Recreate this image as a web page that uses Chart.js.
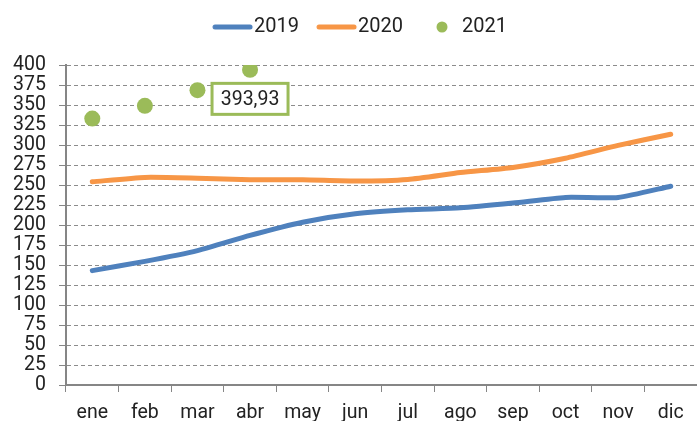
<!DOCTYPE html>
<html>
<head>
<meta charset="utf-8">
<script src="https://cdn.jsdelivr.net/npm/chart.js@4/dist/chart.umd.min.js"></script>
<style>
  html, body { margin: 0; padding: 0; background: #fff; overflow: hidden; }
  #wrap { width: 697px; height: 421px; }
</style>
</head>
<body>
<div id="wrap"><canvas id="grafico"></canvas></div>
<script>
var meses = ['ene', 'feb', 'mar', 'abr', 'may', 'jun', 'jul', 'ago', 'sep', 'oct', 'nov', 'dic'];
var serie2019 = [143, 154.5, 168, 187, 203.5, 214, 219, 221.5, 227.5, 234.5, 234.5, 248.5];
var serie2020 = [254, 259.5, 258.5, 256.5, 256.5, 255, 257, 265.5, 272, 283.5, 299.5, 313.5];
var serie2021 = [333, 349, 368.5, 393.93, null, null, null, null, null, null, null, null];
var etiqueta2021 = '393,93';
var indiceEtiqueta = 3;

var azul = '#4F81BD';
var naranja = '#F79646';
var verde = '#9BBB59';

// muestras de leyenda dibujadas en un canvas pequeño
function muestraLinea(color) {
    var c = document.createElement('canvas');
    c.width = 60; c.height = 8;
    var g = c.getContext('2d');
    g.strokeStyle = color;
    g.lineWidth = 5;
    g.lineCap = 'round';
    g.beginPath();
    g.moveTo(21, 4);
    g.lineTo(56, 4);
    g.stroke();
    return c;
}
function muestraPunto(color) {
    var c = document.createElement('canvas');
    c.width = 60; c.height = 14;
    var g = c.getContext('2d');
    g.fillStyle = color;
    g.beginPath();
    g.arc(40, 7, 5.5, 0, Math.PI * 2);
    g.fill();
    return c;
}

var etiquetaPlugin = {
    id: 'etiquetaDato',
    afterDatasetsDraw: function (chart) {
        var meta = chart.getDatasetMeta(2);
        var p = meta.data[indiceEtiqueta];
        if (!p) return;
        var ctx = chart.ctx;
        var w = 76, h = 31;
        var cx = p.x, cy = p.y + 29;
        ctx.save();
        ctx.fillStyle = '#fff';
        ctx.fillRect(cx - w / 2, cy - h / 2, w, h);
        ctx.strokeStyle = verde;
        ctx.lineWidth = 3;
        ctx.strokeRect(cx - w / 2, cy - h / 2, w, h);
        ctx.fillStyle = '#222';
        ctx.font = '19.5px Roboto';
        ctx.textAlign = 'center';
        ctx.textBaseline = 'middle';
        ctx.fillText(etiqueta2021, cx, cy + 1);
        ctx.restore();
    }
};

// espacio extra bajo la leyenda y leve corrimiento a la derecha
var leyendaPlugin = {
    id: 'espacioLeyenda',
    beforeUpdate: function (chart) {
        var lg = chart.legend;
        if (lg && !lg._parcheado) {
            var fitOrig = lg.fit;
            lg.fit = function () {
                fitOrig.apply(this, arguments);
                this.height += 18;
            };
            var drawOrig = lg.draw;
            lg.draw = function () {
                var ctx = this.ctx;
                ctx.save();
                ctx.translate(7, 0);
                drawOrig.apply(this, arguments);
                ctx.restore();
            };
            lg._parcheado = true;
        }
    }
};

var canvas = document.getElementById('grafico').getContext('2d');

window.grafico = new Chart(canvas, {
    type: 'line',
    data: {
        labels: meses,
        datasets: [{
            label: '2019',
            data: serie2019,
            borderColor: azul,
            backgroundColor: azul,
            borderWidth: 5,
            pointRadius: 0,
            borderCapStyle: 'round',
            tension: 0.2
        }, {
            label: '2020',
            data: serie2020,
            borderColor: naranja,
            backgroundColor: naranja,
            borderWidth: 5,
            pointRadius: 0,
            borderCapStyle: 'round',
            tension: 0.2
        }, {
            label: '2021',
            data: serie2021,
            showLine: false,
            borderColor: verde,
            backgroundColor: verde,
            pointRadius: 8,
            pointBorderWidth: 0,
            pointStyle: 'circle'
        }]
    },
    options: {
        responsive: true,
        maintainAspectRatio: false,
        animation: false,
        layout: {
            autoPadding: false,
            padding: { left: 0, right: 0, top: 8, bottom: 0 }
        },
        plugins: {
            tooltip: { enabled: false },
            legend: {
                display: true,
                position: 'top',
                labels: {
                    usePointStyle: true,
                    pointStyleWidth: 40,
                    padding: 9,
                    color: '#222',
                    font: { family: 'Roboto', size: 20 },
                    generateLabels: function (chart) {
                        var imgs = [muestraLinea(azul), muestraLinea(naranja), muestraPunto(verde)];
                        return chart.data.datasets.map(function (ds, i) {
                            return {
                                text: ds.label,
                                pointStyle: imgs[i],
                                fillStyle: ds.borderColor,
                                strokeStyle: ds.borderColor,
                                lineWidth: 0,
                                hidden: false,
                                datasetIndex: i,
                                fontColor: '#222'
                            };
                        });
                    }
                }
            }
        },
        scales: {
            x: {
                offset: true,
                grid: {
                    offset: true,
                    drawOnChartArea: false,
                    drawTicks: true,
                    tickLength: 7,
                    color: '#868686',
                    lineWidth: 1
                },
                border: { color: '#868686', width: 2 },
                ticks: {
                    color: '#222',
                    padding: 9,
                    maxRotation: 0,
                    font: { family: 'Roboto', size: 19.5 }
                },
                afterFit: function (s) {
                    s.height = 36;
                    s.paddingLeft = 0;
                    s.paddingRight = 0;
                }
            },
            y: {
                min: 0,
                max: 400,
                ticks: {
                    stepSize: 25,
                    autoSkip: false,
                    color: '#222',
                    padding: 13,
                    font: { family: 'Roboto', size: 19.5 }
                },
                grid: {
                    color: '#8c8c8c',
                    lineWidth: 1,
                    tickLength: 7,
                    tickBorderDash: [],
                    tickColor: '#868686'
                },
                border: { color: '#868686', width: 2, dash: [4, 3] },
                afterFit: function (s) { s.width = 66; }
            }
        }
    },
    plugins: [etiquetaPlugin, leyendaPlugin]
});
</script>
</body>
</html>
